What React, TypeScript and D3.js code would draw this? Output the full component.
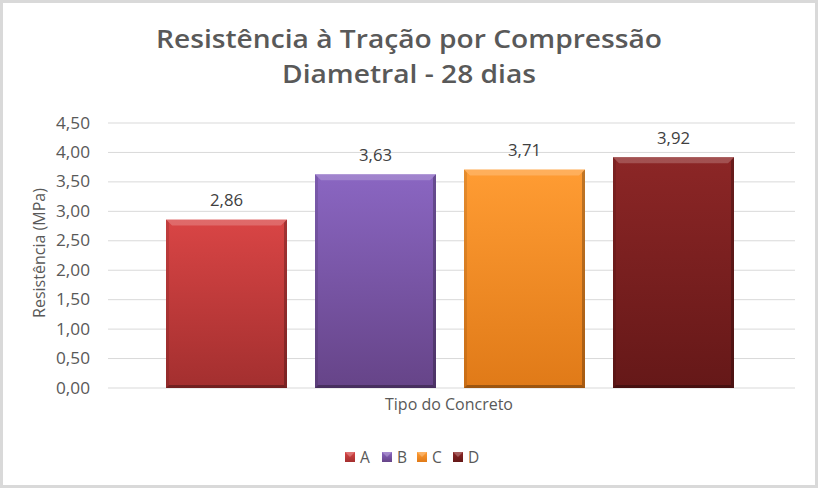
import React from "react";
import * as d3 from "d3";

const categories = ["A", "B", "C", "D"];
const values = [2.86, 3.63, 3.71, 3.92];
const yTicks = [0, 0.5, 1, 1.5, 2, 2.5, 3, 3.5, 4, 4.5];
const colorsTop = ["#d94545", "#8a66c2", "#ff9c33", "#8c2626"];
const colorsBottom = ["#a32f2f", "#664488", "#e07a18", "#651818"];
const titleLines = ["Resistência à Tração por Compressão", "Diametral - 28 dias"];

const W = 818, H = 488;
const plot = { left: 108, right: 795, top: 123, bottom: 388 };
const FONT = "'Open Sans', 'DejaVu Sans', sans-serif";
const TXT = "#595959";

export default function App() {
  const y = d3.scaleLinear().domain([0, 4.5]).range([plot.bottom, plot.top]);
  const x = d3.scaleBand().domain(categories).range([166, 734]).paddingInner(28 / 149).paddingOuter(0);
  const fmt = (v: number) => v.toFixed(2).replace(".", ",");
  const bw = x.bandwidth();
  const bev = 6;
  const legendX = [345, 382, 417, 453];

  return (
    <svg width={W} height={H} style={{ position: "absolute", left: 0, top: 0, background: "#fff" }}>
      <defs>
        {categories.map((c, i) => (
          <linearGradient key={c} id={`g${i}`} x1="0" y1="0" x2="0" y2="1">
            <stop offset="0" stopColor={colorsTop[i]} />
            <stop offset="1" stopColor={colorsBottom[i]} />
          </linearGradient>
        ))}
      </defs>
      <rect x={1.5} y={1.5} width={W - 3} height={H - 3} fill="#fff" stroke="#d9d9d9" strokeWidth={3} />
      {titleLines.map((t, i) => (
        <text key={i} x={409} y={48 + i * 35} textAnchor="middle" fontFamily={FONT} fontWeight={600}
          fontSize={25} fill={TXT} textLength={i === 0 ? 506 : 254} lengthAdjust="spacingAndGlyphs">{t}</text>
      ))}
      {yTicks.map((t) => (
        <g key={t}>
          <line x1={plot.left} x2={plot.right} y1={y(t)} y2={y(t)} stroke="#d9d9d9" strokeWidth={1} />
          <text x={90} y={y(t)} dy="0.36em" textAnchor="end" fontFamily={FONT} fontSize={15.5} fill={TXT}
            textLength={34} lengthAdjust="spacingAndGlyphs">{fmt(t)}</text>
        </g>
      ))}
      <text transform={`translate(40,253) rotate(-90)`} textAnchor="middle" dy="0.35em"
        fontFamily={FONT} fontSize={15.5} fill={TXT} textLength={130} lengthAdjust="spacingAndGlyphs">Resistência (MPa)</text>
      {categories.map((c, i) => {
        const x0 = x(c)!;
        const y0 = y(values[i]);
        const y1 = y(0);
        const x1 = x0 + bw;
        return (
          <g key={c}>
            <rect x={x0} y={y0} width={bw} height={y1 - y0} fill={`url(#g${i})`} />
            <polygon points={`${x0},${y0} ${x1},${y0} ${x1 - bev},${y0 + bev} ${x0 + bev},${y0 + bev}`} fill="#fff" opacity={0.2} />
            <polygon points={`${x1},${y0} ${x1},${y1} ${x1 - 3},${y1 - 3} ${x1 - 3},${y0 + 3}`} fill="#000" opacity={0.25} />
            <polygon points={`${x0},${y1} ${x1},${y1} ${x1 - 3},${y1 - 3} ${x0 + 3},${y1 - 3}`} fill="#000" opacity={0.3} />
            <polygon points={`${x0},${y0} ${x0 + 3},${y0 + 3} ${x0 + 3},${y1 - 3} ${x0},${y1}`} fill="#000" opacity={0.1} />
            <text x={x0 + bw / 2} y={y0 - 19} dy="0.36em" textAnchor="middle" fontFamily={FONT} fontSize={16} fill="#404040"
              textLength={33} lengthAdjust="spacingAndGlyphs">{fmt(values[i])}</text>
          </g>
        );
      })}
      <text x={449} y={404} dy="0.36em" textAnchor="middle" fontFamily={FONT} fontSize={15.5} fill={TXT}
        textLength={128} lengthAdjust="spacingAndGlyphs">Tipo do Concreto</text>
      {categories.map((c, i) => {
        const lx = legendX[i];
        return (
          <g key={c}>
            <rect x={lx} y={452} width={10} height={10} fill={`url(#g${i})`} />
            <polygon points={`${lx},${452} ${lx + 10},${452} ${lx + 5},${457}`} fill="#fff" opacity={0.25} />
            <text x={lx + 15} y={457} dy="0.36em" fontFamily={FONT} fontSize={15.5} fill={TXT}>{c}</text>
          </g>
        );
      })}
    </svg>
  );
}
